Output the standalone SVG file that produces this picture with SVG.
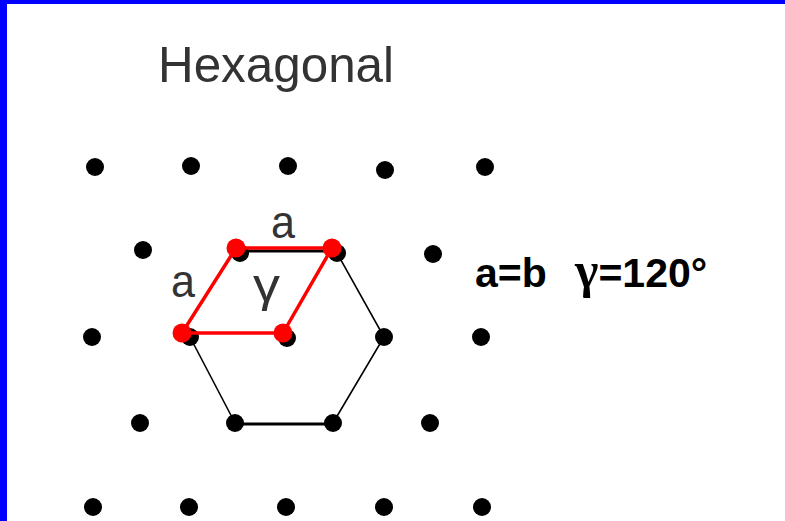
<svg xmlns="http://www.w3.org/2000/svg" width="785" height="521" viewBox="0 0 785 521">
<style>
.dot{fill:#000}
.rdot{fill:#ff0000}
.hex{fill:none;stroke:#000;stroke-width:1.6}
.cell{fill:none;stroke:#ff0000;stroke-width:3.5;stroke-linejoin:round}
.lbl{font-family:"Liberation Sans",Arial,sans-serif;fill:#333}
.eq{font-family:"Liberation Sans",Arial,sans-serif;font-weight:bold;fill:#000;font-size:41px}
</style>
<rect x="0" y="0" width="785" height="521" fill="#fff"/>
<rect x="0" y="0" width="785" height="4" fill="#0000ff"/>
<rect x="0" y="0" width="7" height="521" fill="#0000ff"/>
<text class="lbl" x="158" y="82" font-size="50" textLength="236" lengthAdjust="spacingAndGlyphs">Hexagonal</text>
<g id="lattice">
<circle class="dot" cx="95" cy="167" r="9"/><circle class="dot" cx="191" cy="166" r="9"/><circle class="dot" cx="288" cy="166" r="9"/><circle class="dot" cx="385" cy="170" r="9"/><circle class="dot" cx="485" cy="167" r="9"/>
<circle class="dot" cx="143" cy="250" r="9"/><circle class="dot" cx="240" cy="253" r="9"/><circle class="dot" cx="337" cy="253" r="9"/><circle class="dot" cx="433" cy="254" r="9"/>
<circle class="dot" cx="92" cy="337" r="9"/><circle class="dot" cx="190" cy="337" r="9"/><circle class="dot" cx="287" cy="338" r="9"/><circle class="dot" cx="384" cy="337" r="9"/><circle class="dot" cx="481" cy="337" r="9"/>
<circle class="dot" cx="140" cy="423" r="9"/><circle class="dot" cx="235" cy="423" r="9"/><circle class="dot" cx="333" cy="423" r="9"/><circle class="dot" cx="430" cy="423" r="9"/>
<circle class="dot" cx="93" cy="507" r="9"/><circle class="dot" cx="189" cy="507" r="9"/><circle class="dot" cx="286" cy="507" r="9"/><circle class="dot" cx="384" cy="507" r="9"/><circle class="dot" cx="482" cy="507" r="9"/>
</g>
<g id="connectors">
<polyline class="hex" points="190,337 235,423"/>
<polyline class="hex" points="337,253 384,337 333,423"/>
<line x1="235" y1="424" x2="333" y2="424" stroke="#000" stroke-width="3"/>
<line x1="240" y1="251" x2="337" y2="251" stroke="#000" stroke-width="3"/>
</g>
<g id="unit-cell">
<polygon class="cell" points="236,248 332,248 283,333 182,333"/>
<circle class="rdot" cx="236" cy="248" r="9.5"/>
<circle class="rdot" cx="332" cy="248" r="9.5"/>
<circle class="rdot" cx="182" cy="333" r="9.5"/>
<circle class="rdot" cx="283" cy="333" r="9.5"/>
</g>
<text class="lbl" x="271" y="238" font-size="46" textLength="24" lengthAdjust="spacingAndGlyphs">a</text>
<text class="lbl" x="171" y="297" font-size="46" textLength="24" lengthAdjust="spacingAndGlyphs">a</text>
<text class="lbl" x="253" y="301" font-size="46" textLength="27" lengthAdjust="spacingAndGlyphs">γ</text>
<text class="eq" x="475" y="287">a=b<tspan x="575" font-family="'Liberation Serif',serif" font-size="50">γ</tspan>=120°</text>
</svg>
